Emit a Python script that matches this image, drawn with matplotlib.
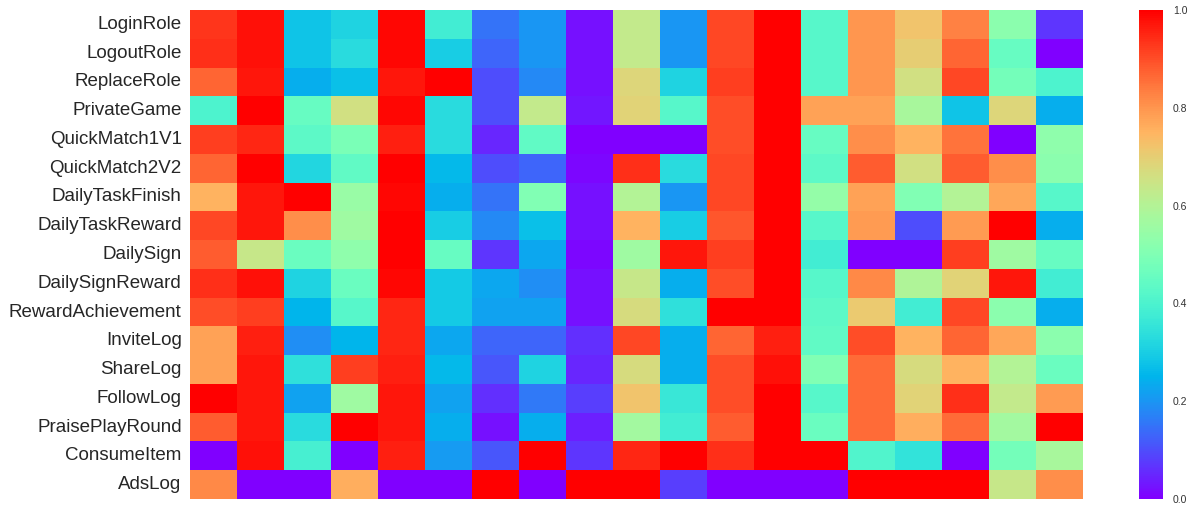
import pandas as pd
import matplotlib
matplotlib.use('Agg')
import matplotlib.pyplot as plt
import seaborn as sns

events = ['LoginRole', 'LogoutRole', 'ReplaceRole', 'PrivateGame', 'QuickMatch1V1',
          'QuickMatch2V2', 'DailyTaskFinish', 'DailyTaskReward', 'DailySign',
          'DailySignReward', 'RewardAchievement', 'InviteLog', 'ShareLog',
          'FollowLog', 'PraisePlayRound', 'ConsumeItem', 'AdsLog']

login_role = [0.93, 0.98, 0.28, 0.31, 0.99, 0.38, 0.15, 0.20, 0.02, 0.63, 0.20, 0.91, 1.00, 0.42, 0.80, 0.72, 0.83, 0.52, 0.07]
logout_role = [0.94, 0.98, 0.28, 0.33, 0.99, 0.30, 0.13, 0.20, 0.02, 0.63, 0.20, 0.91, 1.00, 0.42, 0.80, 0.70, 0.87, 0.45, 0.00]
replace_role = [0.87, 0.97, 0.24, 0.27, 0.97, 1.00, 0.10, 0.18, 0.02, 0.68, 0.31, 0.92, 1.00, 0.42, 0.80, 0.66, 0.91, 0.48, 0.40]
private_game = [0.40, 1.00, 0.45, 0.66, 0.99, 0.33, 0.10, 0.63, 0.03, 0.69, 0.42, 0.90, 1.00, 0.78, 0.78, 0.58, 0.28, 0.68, 0.24]
quick_1v1 = [0.92, 0.95, 0.43, 0.49, 0.96, 0.33, 0.05, 0.44, 0.00, 0.00, 0.00, 0.90, 1.00, 0.45, 0.81, 0.75, 0.85, 0.00, 0.53]
quick_2v2 = [0.87, 1.00, 0.32, 0.44, 1.00, 0.26, 0.10, 0.13, 0.01, 0.94, 0.33, 0.91, 1.00, 0.43, 0.88, 0.66, 0.88, 0.81, 0.52]
task_finish = [0.75, 0.97, 1.00, 0.55, 0.99, 0.24, 0.15, 0.50, 0.02, 0.60, 0.20, 0.91, 1.00, 0.54, 0.78, 0.50, 0.60, 0.77, 0.42]
task_reward = [0.91, 0.97, 0.81, 0.56, 1.00, 0.30, 0.18, 0.27, 0.02, 0.75, 0.30, 0.89, 1.00, 0.42, 0.79, 0.10, 0.79, 1.00, 0.24]
daily_sign = [0.88, 0.64, 0.46, 0.53, 1.00, 0.45, 0.07, 0.23, 0.01, 0.56, 0.97, 0.92, 1.00, 0.38, 0.00, 0.00, 0.92, 0.56, 0.45]
sign_reward = [0.94, 0.98, 0.31, 0.46, 0.99, 0.29, 0.23, 0.19, 0.02, 0.64, 0.24, 0.90, 1.00, 0.42, 0.82, 0.59, 0.69, 0.97, 0.38]
achievement = [0.90, 0.92, 0.25, 0.42, 0.95, 0.29, 0.22, 0.22, 0.02, 0.67, 0.34, 1.00, 1.00, 0.43, 0.71, 0.38, 0.91, 0.52, 0.24]
invite_log = [0.78, 0.96, 0.19, 0.25, 0.95, 0.23, 0.13, 0.13, 0.06, 0.91, 0.24, 0.87, 0.96, 0.44, 0.90, 0.75, 0.87, 0.77, 0.52]
share_log = [0.78, 0.97, 0.34, 0.92, 0.96, 0.26, 0.11, 0.31, 0.05, 0.67, 0.24, 0.90, 0.98, 0.50, 0.86, 0.67, 0.75, 0.60, 0.46]
follow_log = [1.00, 0.97, 0.22, 0.56, 0.97, 0.22, 0.06, 0.16, 0.08, 0.72, 0.36, 0.90, 1.00, 0.42, 0.86, 0.69, 0.94, 0.63, 0.79]
praise_round = [0.88, 0.97, 0.33, 1.00, 0.97, 0.24, 0.02, 0.24, 0.04, 0.57, 0.38, 0.88, 1.00, 0.46, 0.86, 0.76, 0.86, 0.57, 1.00]
consume_item = [0.00, 0.98, 0.39, 0.00, 0.96, 0.21, 0.11, 1.00, 0.07, 0.95, 1.00, 0.94, 1.00, 1.00, 0.41, 0.35, 0.00, 0.48, 0.58]
ads_log = [0.82, 0.00, 0.00, 0.76, 0.00, 0.00, 1.00, 0.00, 1.00, 1.00, 0.08, 0.00, 0.00, 0.00, 1.00, 1.00, 1.00, 0.64, 0.81]

rows = [login_role, logout_role, replace_role, private_game, quick_1v1, quick_2v2,
        task_finish, task_reward, daily_sign, sign_reward, achievement, invite_log,
        share_log, follow_log, praise_round, consume_item, ads_log]

cbar_ticks = [0.0, 0.2, 0.4, 0.6, 0.8, 1.0]

df = pd.DataFrame(rows, index=events)

sns.set_style('white')
plt.rcParams['font.family'] = ['Liberation Sans', 'DejaVu Sans']

fig = plt.figure(figsize=(11.91, 5.12), dpi=100)
ax = fig.add_axes([190 / 1191, 1 - 499 / 512, 893 / 1191, 489 / 512])
cax = fig.add_axes([1139 / 1191, 1 - 499 / 512, 24 / 1191, 489 / 512])

sns.heatmap(df, ax=ax, cbar_ax=cax, cmap='rainbow', vmin=0, vmax=1,
            xticklabels=False, yticklabels=True,
            cbar_kws={'ticks': cbar_ticks})

ax.tick_params(axis='y', length=0, pad=6, labelsize=13.5, labelcolor='#262626')
ax.set_yticklabels(events, rotation=0)
ax.set_ylabel('')

# colorbar: no outline, small grey labels
cax.tick_params(length=0, pad=7, labelsize=7.5, labelcolor='#333333')
cax.set_yticklabels(['{:.1f}'.format(t) for t in cbar_ticks])
for s in cax.spines.values():
    s.set_visible(False)

fig.savefig('out.png', dpi=100)
